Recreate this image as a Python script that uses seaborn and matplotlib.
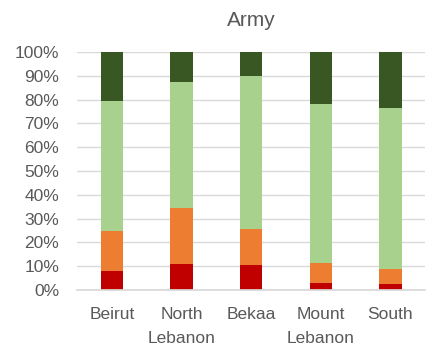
import numpy as np
import pandas as pd
import matplotlib
matplotlib.use("Agg")
import matplotlib.pyplot as plt
import seaborn as sns
from matplotlib.ticker import PercentFormatter

regions = ["Beirut", "North\nLebanon", "Bekaa", "Mount\nLebanon", "South"]
very_negative = [8.0, 11.0, 10.5, 3.0, 2.5]
negative = [17.0, 23.5, 15.0, 8.5, 6.5]
positive = [54.5, 53.0, 64.5, 66.5, 67.5]
very_positive = [20.5, 12.5, 10.0, 22.0, 23.5]

series = [very_negative, negative, positive, very_positive]
colors = ["#C00000", "#ED7D31", "#A9D18E", "#385723"]

sns.set_theme(style="white")
plt.rcParams["font.family"] = ["Liberation Sans", "DejaVu Sans"]

fig = plt.figure(figsize=(4.33, 3.49), dpi=100)
ax = fig.add_axes([0.178, 0.169, 0.804, 0.682])

# cumulative tops, drawn from the highest layer down so each sits on the next
cum = np.cumsum(np.array(series), axis=0)
for level in range(len(series) - 1, -1, -1):
    df = pd.DataFrame({"region": regions, "value": cum[level]})
    sns.barplot(data=df, x="region", y="value", color=colors[level],
                saturation=1, width=0.32, linewidth=0, ax=ax)

ax.set_ylim(0, 100)
ax.set_xlim(-0.5, len(regions) - 0.5)
ax.set_yticks(np.arange(0, 101, 10))
ax.yaxis.set_major_formatter(PercentFormatter(decimals=0))
ax.yaxis.grid(True, color="#D9D9D9", linewidth=1)
ax.set_axisbelow(True)
for side in ["left", "right", "top"]:
    ax.spines[side].set_visible(False)
ax.spines["bottom"].set_color("#D9D9D9")
ax.set_xlabel("")
ax.set_ylabel("")
ax.tick_params(axis="both", colors="#595959", labelsize=12.5, length=0)
ax.tick_params(axis="y", pad=13)
ax.tick_params(axis="x", pad=12)
for lbl in ax.get_xticklabels():
    lbl.set_linespacing(1.75)
ax.set_title("Army", fontsize=15, color="#595959", pad=19)

fig.savefig("out.png", dpi=100)
